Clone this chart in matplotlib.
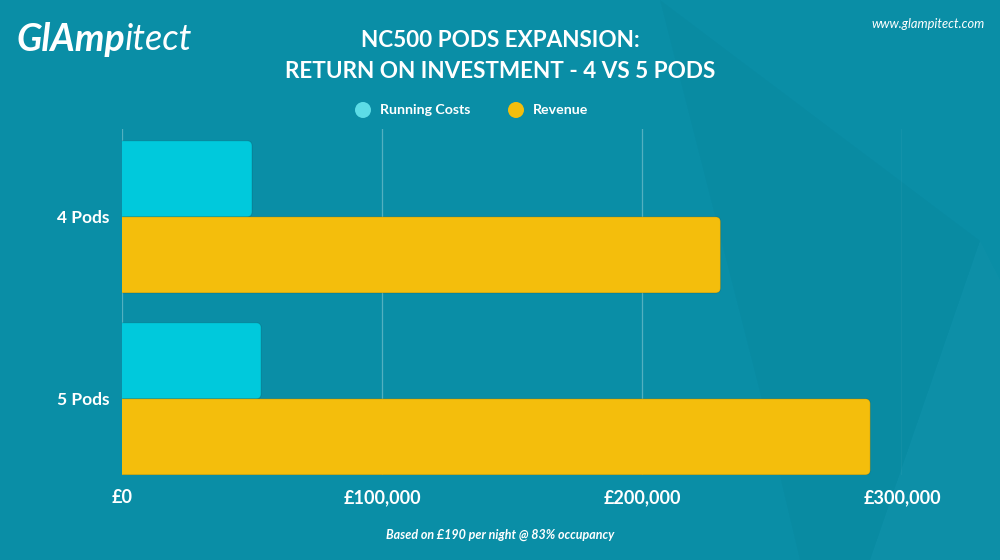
import matplotlib.pyplot as plt
from matplotlib.patches import FancyBboxPatch, Polygon, Ellipse

# data
categories = ['4 Pods', '5 Pods']
running_costs = [50000, 53500]
revenue = [230200, 287800]
tick_values = [0, 100000, 200000, 300000]
tick_labels = ['£0', '£100,000', '£200,000', '£300,000']

bg = '#0a8ea6'
cyan = '#00c9dc'
yellow = '#f4be0c'
font = 'Lato'

fig = plt.figure(figsize=(10, 5.6), dpi=100)
fig.patch.set_facecolor(bg)

# faint background shapes
fig.patches.append(Polygon([[0.66, 1.0], [0.98, 0.57], [0.87, 0.0], [0.80, 0.0], [0.76, 0.3]],
                           closed=True, transform=fig.transFigure, facecolor='black',
                           alpha=0.018, edgecolor='none', zorder=0))
fig.patches.append(Polygon([[0.98, 0.57], [0.87, 0.0], [1.0, 0.0], [1.0, 0.5]],
                           closed=True, transform=fig.transFigure, facecolor='white',
                           alpha=0.015, edgecolor='none', zorder=0))

ax = fig.add_axes([0.122, 0.152, 0.78, 0.618])
ax.set_zorder(2)
ax.set_facecolor('none')

y = list(range(len(categories)))
h = 0.418
bars_c = ax.barh([v - h / 2 for v in y], running_costs, height=h, color=cyan)
bars_r = ax.barh([v + h / 2 for v in y], revenue, height=h, color=yellow)

ax.set_xlim(0, 300000)
ax.set_ylim(1.418, -0.484)

# swap plain bars for ones with rounded right ends
xpp = 300000 / 780.0
ypp = (1.418 + 0.484) / 346.0
r = 5 * xpp
for bars in (bars_c, bars_r):
    for b in bars:
        x0, y0 = b.get_x(), b.get_y()
        w, hh = b.get_width(), b.get_height()
        p = FancyBboxPatch((x0 - 2 * r, y0), w + 2 * r, hh,
                           boxstyle='round,pad=0,rounding_size=%f' % r,
                           mutation_aspect=ypp / xpp,
                           facecolor=b.get_facecolor(), edgecolor=(0, 0, 0, 0.12),
                           linewidth=0.8, zorder=3)
        ax.add_patch(p)
        b.set_visible(False)

for t in tick_values:
    ax.axvline(t, color='white', alpha=0.3, lw=0.9, zorder=1)

for s in ax.spines.values():
    s.set_visible(False)
ax.set_xticks(tick_values)
ax.set_xticklabels(tick_labels, fontsize=13, fontweight='bold', color='white', family=font)
ax.set_yticks(y)
ax.set_yticklabels(categories, fontsize=12.5, fontweight='bold', color='white', family=font)
ax.tick_params(length=0, axis='x', pad=10)
ax.tick_params(length=0, axis='y', pad=9)

# title
fig.text(0.5, 0.928, 'NC500 PODS EXPANSION:', ha='center', va='center',
         fontsize=16.2, fontweight='bold', color='white', family=font)
fig.text(0.5, 0.873, 'RETURN ON INVESTMENT - 4 VS 5 PODS', ha='center', va='center',
         fontsize=16.2, fontweight='bold', color='white', family=font)

# legend
for cx, col, lab in [(0.363, '#5cdce6', 'Running Costs'), (0.516, yellow, 'Revenue')]:
    fig.patches.append(Ellipse((cx, 0.8036), 0.016, 0.016 * 10 / 5.6,
                               transform=fig.transFigure, facecolor=col, edgecolor='none'))
    fig.text(cx + 0.017, 0.8036, lab, ha='left', va='center', fontsize=10.2,
             fontweight='bold', color='white', family=font)

# logo and url
fig.text(0.016, 0.930, 'GlAmp', ha='left', va='center', fontsize=27, fontweight='bold',
         style='italic', color='white', family=font)
fig.text(0.1245, 0.930, 'itect', ha='left', va='center', fontsize=26,
         style='italic', color='white', family=font)
fig.text(0.985, 0.958, 'www.glampitect.com', ha='right', va='center', fontsize=9.3,
         style='italic', color='white', family=font)

# footnote
fig.text(0.5, 0.044, 'Based on £190 per night @ 83% occupancy', ha='center', va='center',
         fontsize=9, fontweight='bold', style='italic', color='white', family=font)

fig.savefig('out.png', dpi=100, facecolor=bg)
